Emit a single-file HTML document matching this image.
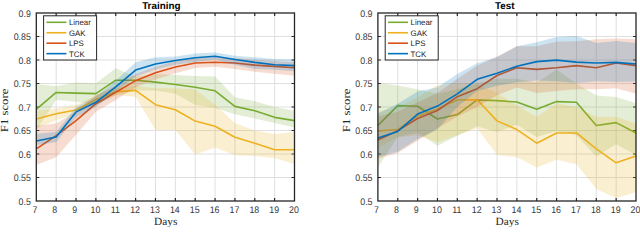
<!DOCTYPE html>
<html><head><meta charset="utf-8"><style>
html,body{margin:0;padding:0;background:#fff;}
body{width:640px;height:227px;overflow:hidden;}
svg{display:block;font-family:"Liberation Sans", sans-serif;text-rendering:geometricPrecision;}
</style></head><body>
<svg width="640" height="227" viewBox="0 0 640 227">
<line x1="56.16" y1="13.0" x2="56.16" y2="201.0" stroke="#dfdfdf" stroke-width="1"/>
<line x1="76.02" y1="13.0" x2="76.02" y2="201.0" stroke="#dfdfdf" stroke-width="1"/>
<line x1="95.88" y1="13.0" x2="95.88" y2="201.0" stroke="#dfdfdf" stroke-width="1"/>
<line x1="115.75" y1="13.0" x2="115.75" y2="201.0" stroke="#dfdfdf" stroke-width="1"/>
<line x1="135.61" y1="13.0" x2="135.61" y2="201.0" stroke="#dfdfdf" stroke-width="1"/>
<line x1="155.47" y1="13.0" x2="155.47" y2="201.0" stroke="#dfdfdf" stroke-width="1"/>
<line x1="175.33" y1="13.0" x2="175.33" y2="201.0" stroke="#dfdfdf" stroke-width="1"/>
<line x1="195.19" y1="13.0" x2="195.19" y2="201.0" stroke="#dfdfdf" stroke-width="1"/>
<line x1="215.05" y1="13.0" x2="215.05" y2="201.0" stroke="#dfdfdf" stroke-width="1"/>
<line x1="234.92" y1="13.0" x2="234.92" y2="201.0" stroke="#dfdfdf" stroke-width="1"/>
<line x1="254.78" y1="13.0" x2="254.78" y2="201.0" stroke="#dfdfdf" stroke-width="1"/>
<line x1="274.64" y1="13.0" x2="274.64" y2="201.0" stroke="#dfdfdf" stroke-width="1"/>
<line x1="36.3" y1="36.50" x2="294.5" y2="36.50" stroke="#dfdfdf" stroke-width="1"/>
<line x1="36.3" y1="60.00" x2="294.5" y2="60.00" stroke="#dfdfdf" stroke-width="1"/>
<line x1="36.3" y1="83.50" x2="294.5" y2="83.50" stroke="#dfdfdf" stroke-width="1"/>
<line x1="36.3" y1="107.00" x2="294.5" y2="107.00" stroke="#dfdfdf" stroke-width="1"/>
<line x1="36.3" y1="130.50" x2="294.5" y2="130.50" stroke="#dfdfdf" stroke-width="1"/>
<line x1="36.3" y1="154.00" x2="294.5" y2="154.00" stroke="#dfdfdf" stroke-width="1"/>
<line x1="36.3" y1="177.50" x2="294.5" y2="177.50" stroke="#dfdfdf" stroke-width="1"/>
<path d="M56.16 201.0v-3M56.16 13.0v3M76.02 201.0v-3M76.02 13.0v3M95.88 201.0v-3M95.88 13.0v3M115.75 201.0v-3M115.75 13.0v3M135.61 201.0v-3M135.61 13.0v3M155.47 201.0v-3M155.47 13.0v3M175.33 201.0v-3M175.33 13.0v3M195.19 201.0v-3M195.19 13.0v3M215.05 201.0v-3M215.05 13.0v3M234.92 201.0v-3M234.92 13.0v3M254.78 201.0v-3M254.78 13.0v3M274.64 201.0v-3M274.64 13.0v3M36.3 36.50h3M294.5 36.50h-3M36.3 60.00h3M294.5 60.00h-3M36.3 83.50h3M294.5 83.50h-3M36.3 107.00h3M294.5 107.00h-3M36.3 130.50h3M294.5 130.50h-3M36.3 154.00h3M294.5 154.00h-3M36.3 177.50h3M294.5 177.50h-3" stroke="#262626" stroke-width="1.2" fill="none"/>
<polygon points="36.30,83.97 56.16,86.32 76.02,82.56 95.88,83.22 115.75,68.18 135.61,76.69 155.47,74.10 175.33,75.04 195.19,75.98 215.05,76.45 234.92,97.13 254.78,101.36 274.64,107.00 294.50,110.76 294.50,127.40 274.64,122.98 254.78,118.61 234.92,114.19 215.05,107.94 195.19,104.65 175.33,93.84 155.47,90.55 135.61,90.55 115.75,95.25 95.88,104.65 76.02,101.83 56.16,99.95 36.30,130.50" fill="#77AC30" fill-opacity="0.2" stroke="none"/>
<polyline points="36.30,109.35 56.16,92.43 76.02,93.09 95.88,93.60 115.75,80.21 135.61,80.21 155.47,82.09 175.33,84.44 195.19,87.26 215.05,90.78 234.92,106.39 254.78,110.76 274.64,117.34 294.50,120.63" fill="none" stroke="#77AC30" stroke-width="1.6" stroke-linejoin="round"/>
<polygon points="36.30,110.76 56.16,108.41 76.02,104.65 95.88,95.25 115.75,88.20 135.61,85.85 155.47,88.20 175.33,88.20 195.19,89.61 215.05,104.65 234.92,122.98 254.78,130.50 274.64,134.03 294.50,131.91 294.50,164.01 274.64,158.23 254.78,156.02 234.92,155.17 215.05,147.42 195.19,154.47 175.33,130.03 155.47,130.03 135.61,96.66 115.75,95.25 95.88,104.65 76.02,114.05 56.16,120.16 36.30,128.15" fill="#EDB120" fill-opacity="0.2" stroke="none"/>
<polyline points="36.30,118.98 56.16,113.72 76.02,110.01 95.88,99.62 115.75,91.72 135.61,90.41 155.47,104.65 175.33,109.82 195.19,121.10 215.05,126.27 234.92,137.32 254.78,143.19 274.64,149.77 294.50,149.77" fill="none" stroke="#EDB120" stroke-width="1.6" stroke-linejoin="round"/>
<polygon points="36.30,125.80 56.16,123.45 76.02,111.70 95.88,95.25 115.75,85.85 135.61,74.10 155.47,67.05 175.33,60.94 195.19,57.65 215.05,57.18 234.92,58.12 254.78,59.53 274.64,60.94 294.50,62.35 294.50,75.70 274.64,73.63 254.78,71.75 234.92,68.93 215.05,66.72 195.19,67.99 175.33,73.30 155.47,79.41 135.61,87.26 115.75,99.95 95.88,111.70 76.02,134.73 56.16,157.29 36.30,165.09" fill="#D95319" fill-opacity="0.2" stroke="none"/>
<polyline points="36.30,148.83 56.16,135.67 76.02,120.63 95.88,103.71 115.75,92.19 135.61,80.68 155.47,72.83 175.33,67.05 195.19,63.01 215.05,62.21 234.92,63.01 254.78,65.17 274.64,66.39 294.50,67.80" fill="none" stroke="#D95319" stroke-width="1.6" stroke-linejoin="round"/>
<polygon points="36.30,133.79 56.16,131.91 76.02,107.00 95.88,96.66 115.75,80.68 135.61,62.35 155.47,57.18 175.33,56.38 195.19,53.42 215.05,52.48 234.92,55.77 254.78,57.18 274.64,59.06 294.50,59.53 294.50,71.28 274.64,69.87 254.78,68.93 234.92,64.70 215.05,59.53 195.19,61.88 175.33,64.70 155.47,69.40 135.61,76.45 115.75,91.49 95.88,107.00 76.02,117.34 56.16,142.25 36.30,145.07" fill="#0072BD" fill-opacity="0.2" stroke="none"/>
<polyline points="36.30,140.98 56.16,137.08 76.02,111.89 95.88,102.30 115.75,86.79 135.61,70.11 155.47,64.00 175.33,60.47 195.19,57.79 215.05,56.24 234.92,59.53 254.78,62.35 274.64,64.70 294.50,65.64" fill="none" stroke="#0072BD" stroke-width="1.6" stroke-linejoin="round"/>
<rect x="36.3" y="13.0" width="258.20" height="188.0" fill="none" stroke="#262626" stroke-width="1.3"/>
<rect x="43.60" y="15.8" width="53" height="44.2" fill="#fff" stroke="#262626" stroke-width="1"/>
<line x1="46.40" y1="22.30" x2="66.40" y2="22.30" stroke="#77AC30" stroke-width="1.6"/>
<text x="68.90" y="25.20" font-size="7.9" fill="#262626">Linear</text>
<line x1="46.40" y1="32.75" x2="66.40" y2="32.75" stroke="#EDB120" stroke-width="1.6"/>
<text x="68.90" y="35.65" font-size="7.9" fill="#262626">GAK</text>
<line x1="46.40" y1="43.20" x2="66.40" y2="43.20" stroke="#D95319" stroke-width="1.6"/>
<text x="68.90" y="46.10" font-size="7.9" fill="#262626">LPS</text>
<line x1="46.40" y1="53.65" x2="66.40" y2="53.65" stroke="#0072BD" stroke-width="1.6"/>
<text x="68.90" y="56.55" font-size="7.9" fill="#262626">TCK</text>
<text transform="translate(34.90,213.3) scale(0.92,1)" font-size="9.6" fill="#383838" text-anchor="middle">7</text>
<text transform="translate(54.76,213.3) scale(0.92,1)" font-size="9.6" fill="#383838" text-anchor="middle">8</text>
<text transform="translate(74.62,213.3) scale(0.92,1)" font-size="9.6" fill="#383838" text-anchor="middle">9</text>
<text transform="translate(95.38,213.3) scale(0.92,1)" font-size="9.6" fill="#383838" text-anchor="middle">10</text>
<text transform="translate(115.25,213.3) scale(0.92,1)" font-size="9.6" fill="#383838" text-anchor="middle">11</text>
<text transform="translate(135.11,213.3) scale(0.92,1)" font-size="9.6" fill="#383838" text-anchor="middle">12</text>
<text transform="translate(154.97,213.3) scale(0.92,1)" font-size="9.6" fill="#383838" text-anchor="middle">13</text>
<text transform="translate(174.83,213.3) scale(0.92,1)" font-size="9.6" fill="#383838" text-anchor="middle">14</text>
<text transform="translate(194.69,213.3) scale(0.92,1)" font-size="9.6" fill="#383838" text-anchor="middle">15</text>
<text transform="translate(214.55,213.3) scale(0.92,1)" font-size="9.6" fill="#383838" text-anchor="middle">16</text>
<text transform="translate(234.42,213.3) scale(0.92,1)" font-size="9.6" fill="#383838" text-anchor="middle">17</text>
<text transform="translate(254.28,213.3) scale(0.92,1)" font-size="9.6" fill="#383838" text-anchor="middle">18</text>
<text transform="translate(274.14,213.3) scale(0.92,1)" font-size="9.6" fill="#383838" text-anchor="middle">19</text>
<text transform="translate(294.00,213.3) scale(0.92,1)" font-size="9.6" fill="#383838" text-anchor="middle">20</text>
<text transform="translate(30.90,204.70) scale(0.92,1)" font-size="9.6" fill="#383838" text-anchor="end">0.5</text>
<text transform="translate(30.90,181.20) scale(0.92,1)" font-size="9.6" fill="#383838" text-anchor="end">0.55</text>
<text transform="translate(30.90,157.70) scale(0.92,1)" font-size="9.6" fill="#383838" text-anchor="end">0.6</text>
<text transform="translate(30.90,134.20) scale(0.92,1)" font-size="9.6" fill="#383838" text-anchor="end">0.65</text>
<text transform="translate(30.90,110.70) scale(0.92,1)" font-size="9.6" fill="#383838" text-anchor="end">0.7</text>
<text transform="translate(30.90,87.20) scale(0.92,1)" font-size="9.6" fill="#383838" text-anchor="end">0.75</text>
<text transform="translate(30.90,63.70) scale(0.92,1)" font-size="9.6" fill="#383838" text-anchor="end">0.8</text>
<text transform="translate(30.90,40.20) scale(0.92,1)" font-size="9.6" fill="#383838" text-anchor="end">0.85</text>
<text transform="translate(30.90,16.70) scale(0.92,1)" font-size="9.6" fill="#383838" text-anchor="end">0.9</text>
<text x="161.30" y="8.9" font-size="9.85" font-weight="bold" fill="#000" text-anchor="middle">Training</text>
<text transform="translate(165.70,224.8) scale(1.03,1)" font-family='"Liberation Serif", serif' font-size="11" fill="#262626" text-anchor="middle">Days</text>
<text transform="translate(8.30,110.4) rotate(-90) scale(1.18,1)" font-family='"Liberation Serif", serif' font-size="10.8" fill="#262626" text-anchor="middle">F1 score</text>
<line x1="397.75" y1="13.0" x2="397.75" y2="201.0" stroke="#dfdfdf" stroke-width="1"/>
<line x1="417.61" y1="13.0" x2="417.61" y2="201.0" stroke="#dfdfdf" stroke-width="1"/>
<line x1="437.46" y1="13.0" x2="437.46" y2="201.0" stroke="#dfdfdf" stroke-width="1"/>
<line x1="457.32" y1="13.0" x2="457.32" y2="201.0" stroke="#dfdfdf" stroke-width="1"/>
<line x1="477.17" y1="13.0" x2="477.17" y2="201.0" stroke="#dfdfdf" stroke-width="1"/>
<line x1="497.02" y1="13.0" x2="497.02" y2="201.0" stroke="#dfdfdf" stroke-width="1"/>
<line x1="516.88" y1="13.0" x2="516.88" y2="201.0" stroke="#dfdfdf" stroke-width="1"/>
<line x1="536.73" y1="13.0" x2="536.73" y2="201.0" stroke="#dfdfdf" stroke-width="1"/>
<line x1="556.58" y1="13.0" x2="556.58" y2="201.0" stroke="#dfdfdf" stroke-width="1"/>
<line x1="576.44" y1="13.0" x2="576.44" y2="201.0" stroke="#dfdfdf" stroke-width="1"/>
<line x1="596.29" y1="13.0" x2="596.29" y2="201.0" stroke="#dfdfdf" stroke-width="1"/>
<line x1="616.15" y1="13.0" x2="616.15" y2="201.0" stroke="#dfdfdf" stroke-width="1"/>
<line x1="377.9" y1="36.50" x2="636.0" y2="36.50" stroke="#dfdfdf" stroke-width="1"/>
<line x1="377.9" y1="60.00" x2="636.0" y2="60.00" stroke="#dfdfdf" stroke-width="1"/>
<line x1="377.9" y1="83.50" x2="636.0" y2="83.50" stroke="#dfdfdf" stroke-width="1"/>
<line x1="377.9" y1="107.00" x2="636.0" y2="107.00" stroke="#dfdfdf" stroke-width="1"/>
<line x1="377.9" y1="130.50" x2="636.0" y2="130.50" stroke="#dfdfdf" stroke-width="1"/>
<line x1="377.9" y1="154.00" x2="636.0" y2="154.00" stroke="#dfdfdf" stroke-width="1"/>
<line x1="377.9" y1="177.50" x2="636.0" y2="177.50" stroke="#dfdfdf" stroke-width="1"/>
<path d="M397.75 201.0v-3M397.75 13.0v3M417.61 201.0v-3M417.61 13.0v3M437.46 201.0v-3M437.46 13.0v3M457.32 201.0v-3M457.32 13.0v3M477.17 201.0v-3M477.17 13.0v3M497.02 201.0v-3M497.02 13.0v3M516.88 201.0v-3M516.88 13.0v3M536.73 201.0v-3M536.73 13.0v3M556.58 201.0v-3M556.58 13.0v3M576.44 201.0v-3M576.44 13.0v3M596.29 201.0v-3M596.29 13.0v3M616.15 201.0v-3M616.15 13.0v3M377.9 36.50h3M636.0 36.50h-3M377.9 60.00h3M636.0 60.00h-3M377.9 83.50h3M636.0 83.50h-3M377.9 107.00h3M636.0 107.00h-3M377.9 130.50h3M636.0 130.50h-3M377.9 154.00h3M636.0 154.00h-3M377.9 177.50h3M636.0 177.50h-3" stroke="#262626" stroke-width="1.2" fill="none"/>
<polygon points="377.90,83.03 397.75,85.38 417.61,89.14 437.46,93.84 457.32,89.14 477.17,83.50 497.02,78.80 516.88,78.80 536.73,82.56 556.58,69.40 576.44,83.50 596.29,95.39 616.15,96.99 636.00,103.24 636.00,154.94 616.15,144.27 596.29,156.58 576.44,135.20 556.58,130.97 536.73,137.08 516.88,124.86 497.02,131.91 477.17,126.27 457.32,135.67 437.46,145.77 417.61,132.85 397.75,137.08 377.90,167.16" fill="#77AC30" fill-opacity="0.2" stroke="none"/>
<polyline points="377.90,125.33 397.75,105.59 417.61,106.29 437.46,118.98 457.32,114.52 477.17,99.95 497.02,100.65 516.88,102.06 536.73,109.35 556.58,101.59 576.44,102.30 596.29,125.57 616.15,122.60 636.00,132.99" fill="none" stroke="#77AC30" stroke-width="1.6" stroke-linejoin="round"/>
<polygon points="377.90,111.70 397.75,107.00 417.61,97.60 437.46,84.91 457.32,83.50 477.17,83.50 497.02,92.90 516.88,105.59 536.73,117.01 556.58,103.24 576.44,107.00 596.29,116.87 616.15,116.87 636.00,123.45 636.00,192.07 616.15,198.18 596.29,189.02 576.44,164.34 556.58,159.64 536.73,167.39 516.88,157.29 497.02,154.94 477.17,128.15 457.32,135.20 437.46,142.25 417.61,135.20 397.75,137.32 377.90,147.89" fill="#EDB120" fill-opacity="0.2" stroke="none"/>
<polyline points="377.90,130.97 397.75,129.56 417.61,115.93 437.46,108.88 457.32,100.00 477.17,99.71 497.02,120.87 516.88,129.56 536.73,143.19 556.58,132.99 576.44,132.99 596.29,148.92 616.15,162.79 636.00,156.02" fill="none" stroke="#EDB120" stroke-width="1.6" stroke-linejoin="round"/>
<polygon points="377.90,116.40 397.75,111.70 417.61,102.30 437.46,92.90 457.32,78.80 477.17,65.64 497.02,56.38 516.88,46.37 536.73,46.37 556.58,41.67 576.44,41.20 596.29,39.13 616.15,38.52 636.00,39.32 636.00,93.84 616.15,88.20 596.29,89.28 576.44,89.14 556.58,91.02 536.73,92.90 516.88,87.59 497.02,95.25 477.17,107.00 457.32,116.40 437.46,128.15 417.61,140.84 397.75,153.06 377.90,158.70" fill="#D95319" fill-opacity="0.2" stroke="none"/>
<polyline points="377.90,139.90 397.75,130.69 417.61,118.52 437.46,110.52 457.32,96.66 477.17,88.67 497.02,75.51 516.88,67.80 536.73,69.40 556.58,67.80 576.44,65.64 596.29,67.80 616.15,63.01 636.00,65.64" fill="none" stroke="#D95319" stroke-width="1.6" stroke-linejoin="round"/>
<polygon points="377.90,113.58 397.75,103.71 417.61,91.49 437.46,87.26 457.32,74.10 477.17,63.29 497.02,57.18 516.88,46.18 536.73,42.23 556.58,36.97 576.44,36.03 596.29,43.08 616.15,41.01 636.00,43.08 636.00,81.62 616.15,82.09 596.29,81.15 576.44,83.03 556.58,81.15 536.73,80.49 516.88,82.28 497.02,85.85 477.17,91.02 457.32,107.00 437.46,129.56 417.61,138.96 397.75,151.65 377.90,156.82" fill="#0072BD" fill-opacity="0.2" stroke="none"/>
<polyline points="377.90,138.02 397.75,131.44 417.61,114.05 437.46,106.06 457.32,93.84 477.17,79.27 497.02,73.16 516.88,66.30 536.73,61.60 556.58,60.09 576.44,62.12 596.29,63.01 616.15,62.35 636.00,64.00" fill="none" stroke="#0072BD" stroke-width="1.6" stroke-linejoin="round"/>
<rect x="377.9" y="13.0" width="258.10" height="188.0" fill="none" stroke="#262626" stroke-width="1.3"/>
<rect x="385.20" y="15.8" width="53" height="44.2" fill="#fff" stroke="#262626" stroke-width="1"/>
<line x1="388.00" y1="22.30" x2="408.00" y2="22.30" stroke="#77AC30" stroke-width="1.6"/>
<text x="410.50" y="25.20" font-size="7.9" fill="#262626">Linear</text>
<line x1="388.00" y1="32.75" x2="408.00" y2="32.75" stroke="#EDB120" stroke-width="1.6"/>
<text x="410.50" y="35.65" font-size="7.9" fill="#262626">GAK</text>
<line x1="388.00" y1="43.20" x2="408.00" y2="43.20" stroke="#D95319" stroke-width="1.6"/>
<text x="410.50" y="46.10" font-size="7.9" fill="#262626">LPS</text>
<line x1="388.00" y1="53.65" x2="408.00" y2="53.65" stroke="#0072BD" stroke-width="1.6"/>
<text x="410.50" y="56.55" font-size="7.9" fill="#262626">TCK</text>
<text transform="translate(376.50,213.3) scale(0.92,1)" font-size="9.6" fill="#383838" text-anchor="middle">7</text>
<text transform="translate(396.35,213.3) scale(0.92,1)" font-size="9.6" fill="#383838" text-anchor="middle">8</text>
<text transform="translate(416.21,213.3) scale(0.92,1)" font-size="9.6" fill="#383838" text-anchor="middle">9</text>
<text transform="translate(436.96,213.3) scale(0.92,1)" font-size="9.6" fill="#383838" text-anchor="middle">10</text>
<text transform="translate(456.82,213.3) scale(0.92,1)" font-size="9.6" fill="#383838" text-anchor="middle">11</text>
<text transform="translate(476.67,213.3) scale(0.92,1)" font-size="9.6" fill="#383838" text-anchor="middle">12</text>
<text transform="translate(496.52,213.3) scale(0.92,1)" font-size="9.6" fill="#383838" text-anchor="middle">13</text>
<text transform="translate(516.38,213.3) scale(0.92,1)" font-size="9.6" fill="#383838" text-anchor="middle">14</text>
<text transform="translate(536.23,213.3) scale(0.92,1)" font-size="9.6" fill="#383838" text-anchor="middle">15</text>
<text transform="translate(556.08,213.3) scale(0.92,1)" font-size="9.6" fill="#383838" text-anchor="middle">16</text>
<text transform="translate(575.94,213.3) scale(0.92,1)" font-size="9.6" fill="#383838" text-anchor="middle">17</text>
<text transform="translate(595.79,213.3) scale(0.92,1)" font-size="9.6" fill="#383838" text-anchor="middle">18</text>
<text transform="translate(615.65,213.3) scale(0.92,1)" font-size="9.6" fill="#383838" text-anchor="middle">19</text>
<text transform="translate(635.50,213.3) scale(0.92,1)" font-size="9.6" fill="#383838" text-anchor="middle">20</text>
<text transform="translate(372.50,204.70) scale(0.92,1)" font-size="9.6" fill="#383838" text-anchor="end">0.5</text>
<text transform="translate(372.50,181.20) scale(0.92,1)" font-size="9.6" fill="#383838" text-anchor="end">0.55</text>
<text transform="translate(372.50,157.70) scale(0.92,1)" font-size="9.6" fill="#383838" text-anchor="end">0.6</text>
<text transform="translate(372.50,134.20) scale(0.92,1)" font-size="9.6" fill="#383838" text-anchor="end">0.65</text>
<text transform="translate(372.50,110.70) scale(0.92,1)" font-size="9.6" fill="#383838" text-anchor="end">0.7</text>
<text transform="translate(372.50,87.20) scale(0.92,1)" font-size="9.6" fill="#383838" text-anchor="end">0.75</text>
<text transform="translate(372.50,63.70) scale(0.92,1)" font-size="9.6" fill="#383838" text-anchor="end">0.8</text>
<text transform="translate(372.50,40.20) scale(0.92,1)" font-size="9.6" fill="#383838" text-anchor="end">0.85</text>
<text transform="translate(372.50,16.70) scale(0.92,1)" font-size="9.6" fill="#383838" text-anchor="end">0.9</text>
<text x="504.80" y="8.9" font-size="9.85" font-weight="bold" fill="#000" text-anchor="middle">Test</text>
<text transform="translate(507.25,224.8) scale(1.03,1)" font-family='"Liberation Serif", serif' font-size="11" fill="#262626" text-anchor="middle">Days</text>
<text transform="translate(349.90,110.4) rotate(-90) scale(1.18,1)" font-family='"Liberation Serif", serif' font-size="10.8" fill="#262626" text-anchor="middle">F1 score</text>
</svg>
</body></html>
